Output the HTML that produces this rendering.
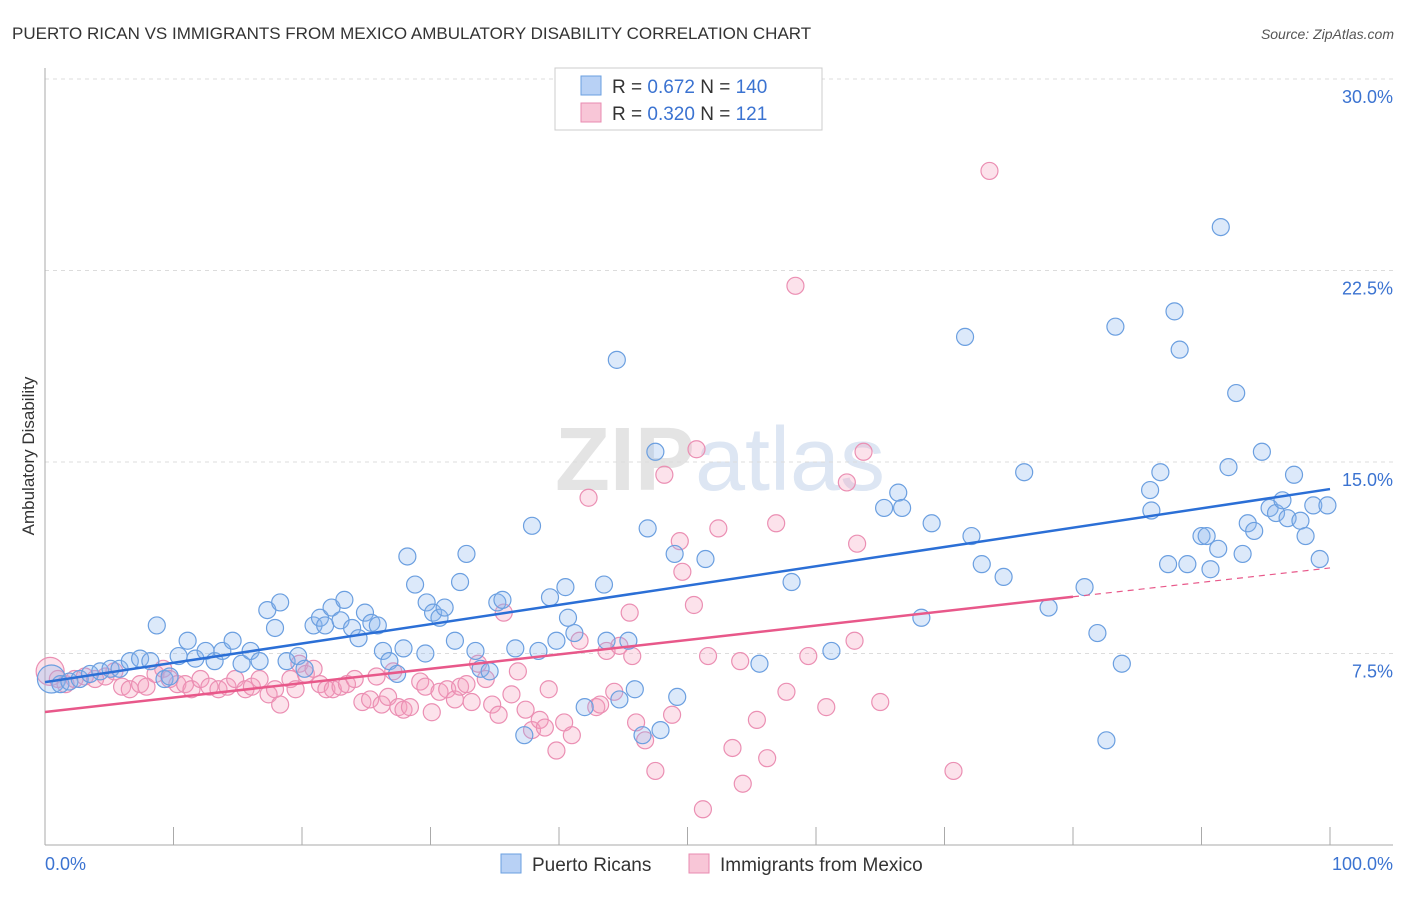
<!DOCTYPE html>
<html><head><meta charset="utf-8"><style>
body{margin:0;background:#fff;font-family:"Liberation Sans",sans-serif;}
svg text{font-family:"Liberation Sans",sans-serif;}
</style></head><body>
<svg id="chart" width="1406" height="892" xmlns="http://www.w3.org/2000/svg">
<text x="12" y="39" font-size="17" fill="#333">PUERTO RICAN VS IMMIGRANTS FROM MEXICO AMBULATORY DISABILITY CORRELATION CHART</text>
<text x="1394" y="39" font-size="14" fill="#555" text-anchor="end" font-style="italic">Source: ZipAtlas.com</text>
<text x="720" y="490" font-size="90" fill="#e4e4e4" text-anchor="middle" font-family="Liberation Serif" font-weight="bold">ZIP<tspan fill="#dde6f3" font-family="Liberation Sans" font-weight="normal">atlas</tspan></text>
<text transform="translate(34,456) rotate(-90)" font-size="17" fill="#333" text-anchor="middle">Ambulatory Disability</text>
<g id="grid"></g><g id="axes"></g><g id="pts"></g><g id="trends"></g>
<g>
<rect x="555" y="68" width="267" height="62" fill="#fff" stroke="#ccc"/>
<rect x="581" y="76" width="20" height="19" fill="#b8d1f5" stroke="#6a9fe0"/>
<rect x="581" y="103" width="20" height="19" fill="#f8c6d7" stroke="#e98bb0"/>
<text x="612" y="93" font-size="19" fill="#333">R = <tspan fill="#3b73d1">0.672</tspan>   N = <tspan fill="#3b73d1">140</tspan></text>
<text x="612" y="120" font-size="19" fill="#333">R = <tspan fill="#3b73d1">0.320</tspan>   N =  <tspan fill="#3b73d1">121</tspan></text>
</g>
<g>
<rect x="501" y="854" width="20" height="19" fill="#b8d1f5" stroke="#6a9fe0"/>
<text x="532" y="871" font-size="19" fill="#333">Puerto Ricans</text>
<rect x="689" y="854" width="20" height="19" fill="#f8c6d7" stroke="#e98bb0"/>
<text x="720" y="871" font-size="19" fill="#333">Immigrants from Mexico</text>
</g>
</svg>
<script>
const yTicks=[7.5,15,22.5,30];
const xTickVals=[0,10,20,30,40,50,60,70,80,90,100];
const blueX=[0.5,1.2,1.9,2.7,3.5,4.3,5.1,5.8,6.6,7.4,8.2,8.7,9.3,9.7,10.4,11.1,11.7,12.5,13.2,13.8,14.6,15.3,16.0,16.7,17.3,17.9,18.3,18.8,19.7,20.2,20.9,21.4,21.8,22.3,23.0,23.3,23.9,24.4,24.9,25.4,25.9,26.3,26.8,27.4,27.9,28.2,28.8,29.6,29.7,30.2,30.7,31.1,31.9,32.3,32.8,33.5,33.9,34.6,35.2,35.6,36.6,37.3,37.9,38.4,39.3,39.8,40.5,40.7,41.2,42.0,43.5,43.7,44.5,44.7,45.4,45.9,46.5,46.9,47.5,47.9,49.0,49.2,51.4,55.6,58.1,61.2,65.3,66.4,66.7,68.2,69.0,71.6,72.1,72.9,74.6,76.2,78.1,80.9,81.9,82.6,83.3,83.8,86.0,86.1,86.8,87.4,87.9,88.3,88.9,90.0,90.4,90.7,91.3,91.5,92.1,92.7,93.2,93.6,94.1,94.7,95.3,95.8,96.3,96.7,97.2,97.7,98.1,98.7,99.2,99.8];
const blueY=[6.5,6.3,6.4,6.5,6.7,6.8,6.9,6.9,7.2,7.3,7.2,8.6,6.5,6.6,7.4,8.0,7.3,7.6,7.2,7.6,8.0,7.1,7.6,7.2,9.2,8.5,9.5,7.2,7.4,6.9,8.6,8.9,8.6,9.3,8.8,9.6,8.5,8.1,9.1,8.7,8.6,7.6,7.2,6.7,7.7,11.3,10.2,7.5,9.5,9.1,8.9,9.3,8.0,10.3,11.4,7.6,6.9,6.8,9.5,9.6,7.7,4.3,12.5,7.6,9.7,8.0,10.1,8.9,8.3,5.4,10.2,8.0,19.0,5.7,8.0,6.1,4.3,12.4,15.4,4.5,11.4,5.8,11.2,7.1,10.3,7.6,13.2,13.8,13.2,8.9,12.6,19.9,12.1,11.0,10.5,14.6,9.3,10.1,8.3,4.1,20.3,7.1,13.9,13.1,14.6,11.0,20.9,19.4,11.0,12.1,12.1,10.8,11.6,24.2,14.8,17.7,11.4,12.6,12.3,15.4,13.2,13.0,13.5,12.8,14.5,12.7,12.1,13.3,11.2,13.3];
const pinkX=[0.4,1.0,1.6,2.3,3.1,3.9,4.7,5.4,6.0,6.6,7.4,7.9,8.6,9.2,9.7,10.3,10.9,11.4,12.1,12.8,13.5,14.2,14.8,15.6,16.1,16.7,17.4,17.9,18.3,19.1,19.5,19.8,20.3,20.9,21.4,21.9,22.4,23.0,23.5,24.1,24.7,25.3,25.8,26.2,26.7,27.1,27.5,27.9,28.4,29.2,29.6,30.1,30.7,31.3,31.9,32.3,32.8,33.2,33.7,34.3,34.8,35.3,35.7,36.3,36.8,37.4,37.9,38.5,38.9,39.2,39.8,40.4,41.0,41.6,42.3,42.9,43.2,43.7,44.3,44.7,45.5,45.7,46.0,46.7,47.5,48.2,48.8,49.4,49.6,50.5,50.7,51.2,51.6,52.4,53.5,54.1,54.3,55.4,56.2,56.9,57.7,58.4,59.4,60.8,62.4,63.0,63.2,63.7,65.0,70.7,73.5];
const pinkY=[6.8,6.5,6.3,6.5,6.6,6.5,6.6,6.8,6.2,6.1,6.3,6.2,6.7,6.9,6.5,6.3,6.3,6.1,6.5,6.2,6.1,6.2,6.5,6.1,6.2,6.5,5.9,6.1,5.5,6.5,6.1,7.1,6.7,6.9,6.3,6.1,6.1,6.2,6.3,6.5,5.6,5.7,6.6,5.5,5.8,6.8,5.4,5.3,5.4,6.4,6.2,5.2,6.0,6.1,5.7,6.2,6.3,5.6,7.1,6.5,5.5,5.1,9.1,5.9,6.8,5.3,4.5,4.9,4.6,6.1,3.7,4.8,4.3,8.0,13.6,5.4,5.5,7.6,6.0,7.8,9.1,7.4,4.8,4.1,2.9,14.5,5.1,11.9,10.7,9.4,15.5,1.4,7.4,12.4,3.8,7.2,2.4,4.9,3.4,12.6,6.0,21.9,7.4,5.4,14.2,8.0,11.8,15.4,5.6,2.9,26.4];
const blueTrend=[6.38,13.94];
const pinkTrend=[5.21,10.85];
const pinkSolidEnd=80;

const X0=45,X1=1330,Y0=845,YT=79;
const sx=v=>X0+(X1-X0)*v/100;
const sy=v=>Y0-(Y0-YT)*v/30;
const NS='http://www.w3.org/2000/svg';
function mk(tag,attrs,parent){const e=document.createElementNS(NS,tag);for(const k in attrs)e.setAttribute(k,attrs[k]);parent.appendChild(e);return e;}
const grid=document.getElementById('grid'),axes=document.getElementById('axes'),pts=document.getElementById('pts'),tr=document.getElementById('trends');
yTicks.forEach(t=>{
 const l=mk('line',{x1:45,x2:1393,y1:sy(t),y2:sy(t),stroke:'#dcdcdc','stroke-dasharray':'4,4'},grid);
 
 
 const tx=mk('text',{x:1393,y:sy(t)+24,'font-size':18,fill:'#3b73d1','text-anchor':'end'},grid);
 tx.textContent=t.toFixed(1)+'%';
 
 
});
const ya=mk('line',{x1:45,x2:45,y1:68,y2:845,stroke:'#aaa'},axes);


const xa=mk('line',{x1:45,x2:1393,y1:845,y2:845,stroke:'#aaa'},axes);


xTickVals.forEach(t=>{
 const l=mk('line',{x1:sx(t),x2:sx(t),y1:827,y2:845,stroke:'#aaa'},axes);
 
 
});
[[0,'0.0%','start',45],[100,'100.0%','end',1393]].forEach(a=>{
 const tx=mk('text',{x:a[3],y:870,'font-size':18,fill:'#3b73d1','text-anchor':a[2]},axes);
 tx.textContent=a[1];
 
 
});
function drawPts(xs,ys,fill,stroke,name){
 xs.forEach((x,i)=>{
  const c=mk('circle',{cx:sx(x),cy:sy(ys[i]),r:i===0?14:8.5,fill:fill,stroke:stroke,'stroke-width':1.2},pts);
  
  
 });
}
drawPts(pinkX,pinkY,'rgba(244,160,190,0.3)','#eb8fb3','pink-point');
drawPts(blueX,blueY,'rgba(140,182,238,0.3)','#6b9fe0','blue-point');
const tv=(t,x)=>t[0]+(t[1]-t[0])*x/100;
const bl=mk('line',{x1:sx(0),y1:sy(tv(blueTrend,0)),x2:sx(100),y2:sy(tv(blueTrend,100)),stroke:'#2b6fd6','stroke-width':2.5},tr);


const pl=mk('line',{x1:sx(0),y1:sy(tv(pinkTrend,0)),x2:sx(pinkSolidEnd),y2:sy(tv(pinkTrend,pinkSolidEnd)),stroke:'#e8588a','stroke-width':2.5},tr);


const pd=mk('line',{x1:sx(pinkSolidEnd),y1:sy(tv(pinkTrend,pinkSolidEnd)),x2:sx(100),y2:sy(tv(pinkTrend,100)),stroke:'#e8588a','stroke-width':1.2,'stroke-dasharray':'6,5'},tr);


</script>
</body></html>
